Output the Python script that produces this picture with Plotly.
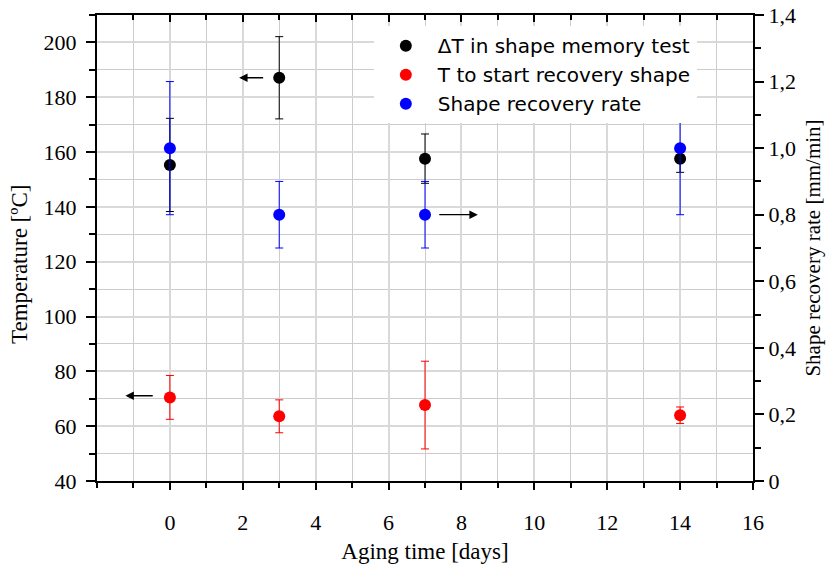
import plotly.graph_objects as go

days = [0, 3, 7, 14]

dT_mean = [155.3, 187.1, 157.6, 157.6]
dT_err = [17.0, 15.0, 9.0, 5.0]

Tstart_mean = [70.5, 63.6, 67.7, 64.0]
Tstart_err = [8.0, 6.0, 16.0, 3.0]

rate_mean = [1.0, 0.8, 0.8, 1.0]
rate_err_plus = [0.2, 0.1, 0.1, 0.18]
rate_err_minus = [0.2, 0.1, 0.1, 0.2]

x_ticks = [0, 2, 4, 6, 8, 10, 12, 14, 16]
y_ticks = [40, 60, 80, 100, 120, 140, 160, 180, 200]
y2_ticks = [0, 0.2, 0.4, 0.6, 0.8, 1.0, 1.2, 1.4]
y2_labels = ["0", "0,2", "0,4", "0,6", "0,8", "1,0", "1,2", "1,4"]

serif = "Liberation Serif"
sans = "DejaVu Sans"

fig = go.Figure()

fig.add_trace(go.Scatter(
    x=days, y=dT_mean, mode="markers", name="ΔT in shape memory test",
    marker=dict(color="black", size=12),
    error_y=dict(type="data", array=dT_err, color="black", thickness=1, width=4),
))
fig.add_trace(go.Scatter(
    x=days, y=Tstart_mean, mode="markers", name="T to start recovery shape",
    marker=dict(color="#ff0000", size=12),
    error_y=dict(type="data", array=Tstart_err, color="#ff0000", thickness=1, width=4),
))
fig.add_trace(go.Scatter(
    x=days, y=rate_mean, mode="markers", name="Shape recovery rate", yaxis="y2",
    marker=dict(color="#0000ff", size=12),
    error_y=dict(type="data", symmetric=False, array=rate_err_plus,
                 arrayminus=rate_err_minus, color="#0000ff", thickness=1, width=4),
))
# dummy trace so the top axis (inward ticks) is drawn
fig.add_trace(go.Scatter(x=[None], y=[None], xaxis="x2", showlegend=False, hoverinfo="skip"))

arrow_style = dict(showarrow=True, arrowhead=2, arrowsize=1.3, arrowwidth=1.3,
                   arrowcolor="black", text="")
fig.add_annotation(x=1.9, y=187.1, ax=2.6, ay=187.1, xref="x", yref="y",
                   axref="x", ayref="y", **arrow_style)
fig.add_annotation(x=-1.22, y=71.1, ax=-0.43, ay=71.1, xref="x", yref="y",
                   axref="x", ayref="y", **arrow_style)
fig.add_annotation(x=8.45, y=0.8, ax=7.35, ay=0.8, xref="x", yref="y2",
                   axref="x", ayref="y2", **arrow_style)

# left axis title (placed slightly below the axis centre, as in the original)
fig.add_annotation(text="Temperature [ºC]", textangle=-90, showarrow=False,
                   xref="paper", yref="paper", x=-0.117, y=0.464,
                   xanchor="center", yanchor="middle",
                   font=dict(family=serif, size=23, color="black"))

grid_major = "#d9d9d9"
grid_minor = "#cccccc"
tickfont = dict(family=serif, size=22, color="black")

fig.update_layout(
    width=829, height=564,
    margin=dict(l=97, r=76, t=15, b=83),
    plot_bgcolor="white", paper_bgcolor="white",
    separators=",.",
    showlegend=True,
    legend=dict(x=0.422, y=0.976, xanchor="left", yanchor="top",
                bgcolor="white", borderwidth=0,
                font=dict(family=sans, size=20, color="black"),
                itemwidth=54, tracegroupgap=0,
                entrywidth=240, entrywidthmode="pixels"),
    xaxis=dict(range=[-2, 16], tickmode="array", tickvals=x_ticks,
               automargin=False,
               showline=True, linecolor="black", linewidth=2,
               ticks="outside", ticklen=7, tickwidth=2, tickcolor="black",
               ticklabelstandoff=14,
               showgrid=True, gridcolor=grid_major, gridwidth=1.5,
               minor=dict(tickmode="linear", tick0=0, dtick=1, ticks="outside",
                          ticklen=5, tickwidth=2, tickcolor="black",
                          showgrid=True, gridcolor=grid_minor, gridwidth=1),
               zeroline=False,
               tickfont=tickfont,
               title=dict(text="Aging time [days]", standoff=12,
                          font=dict(family=serif, size=23, color="black"))),
    xaxis2=dict(range=[-2, 16], overlaying="x", side="top", anchor="y",
                automargin=False,
                tickmode="array", tickvals=x_ticks, showticklabels=False,
                showline=True, linecolor="black", linewidth=2,
                ticks="inside", ticklen=7, tickwidth=2, tickcolor="black",
                minor=dict(tickmode="linear", tick0=0, dtick=1, ticks="inside",
                           ticklen=5, tickwidth=2, tickcolor="black"),
                showgrid=False, zeroline=False),
    yaxis=dict(range=[40, 210], tickmode="array", tickvals=y_ticks,
               automargin=False,
               showline=True, linecolor="black", linewidth=2,
               ticks="outside", ticklen=9, tickwidth=2, tickcolor="black",
               ticklabelstandoff=5,
               showgrid=True, gridcolor=grid_major, gridwidth=1.5,
               minor=dict(tickmode="linear", tick0=40, dtick=10, ticks="outside",
                          ticklen=6, tickwidth=2, tickcolor="black",
                          showgrid=True, gridcolor=grid_minor, gridwidth=1),
               zeroline=False,
               tickfont=tickfont),
    yaxis2=dict(range=[0, 1.4], overlaying="y", side="right", anchor="x",
                automargin=False,
                tickmode="array", tickvals=y2_ticks, ticktext=y2_labels,
                showline=True, linecolor="black", linewidth=2,
                ticks="outside", ticklen=9, tickwidth=2, tickcolor="black",
                minor=dict(tickmode="linear", tick0=0, dtick=0.1, ticks="outside",
                           ticklen=6, tickwidth=2, tickcolor="black"),
                showgrid=False, zeroline=False,
                tickfont=tickfont,
                title=dict(text="Shape recovery rate [mm/min]", standoff=10,
                           font=dict(family=serif, size=21, color="black"))),
)

fig.write_html("out.html")
